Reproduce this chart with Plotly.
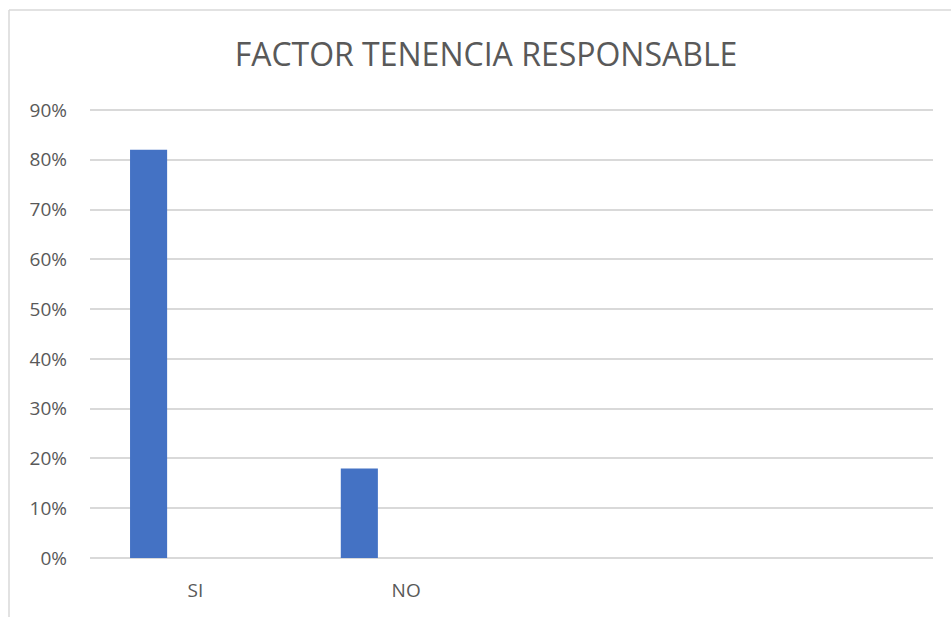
import plotly.graph_objects as go

categories = ["SI", "NO"]
values = [0.82, 0.18]
n_slots = 4
y_ticks = [0, 0.1, 0.2, 0.3, 0.4, 0.5, 0.6, 0.7, 0.8, 0.9]
y_labels = ["0%", "10%", "20%", "30%", "40%", "50%", "60%", "70%", "80%", "90%"]
title = "FACTOR TENENCIA RESPONSABLE"

W, H = 951, 617
y_top = 0.91
L, R, B = 90, 18, 59
px_per_unit = (558 - 110) / 0.9
T = round(110 - (y_top - 0.9) * px_per_unit)
pw = W - L - R
ph = H - T - B

fig = go.Figure(go.Bar(
    x=list(range(len(categories))),
    y=values,
    width=0.176,
    offset=-0.31,
    marker=dict(color="#4472C4", line=dict(width=0)),
    hoverinfo="skip",
))

grey = "#595959"
fig.update_layout(
    width=W, height=H,
    margin=dict(l=L, r=R, t=T, b=B, pad=0),
    paper_bgcolor="white", plot_bgcolor="white",
    showlegend=False,
    font=dict(family="Open Sans, Lato, sans-serif", color=grey, size=19),
    title=dict(text=title, xref="container", x=486 / W, xanchor="center",
               y=1 - 55 / H, yanchor="middle",
               font=dict(size=32, color=grey, family="Open Sans, sans-serif")),
    xaxis=dict(range=[-0.5, n_slots - 0.5], tickvals=list(range(len(categories))),
               ticktext=categories, showgrid=False, zeroline=False, showline=False,
               ticks="", ticklabelstandoff=19, tickfont=dict(size=19)),
    yaxis=dict(range=[0, y_top], tickvals=y_ticks, ticktext=y_labels, showgrid=True,
               gridcolor="#d9d9d9", gridwidth=1.5, zeroline=True, zerolinecolor="#d9d9d9",
               zerolinewidth=1.5, showline=False, ticks="", ticklabelstandoff=22,
               tickfont=dict(size=19)),
    shapes=[
        dict(type="line", xref="paper", yref="paper", x0=(9 - L) / pw, x1=(W + 20 - L) / pw,
             y0=(H - B - 10) / ph, y1=(H - B - 10) / ph, line=dict(color="#d9d9d9", width=1.5)),
        dict(type="line", xref="paper", yref="paper", x0=(9 - L) / pw, x1=(9 - L) / pw,
             y0=(H - B - 10) / ph, y1=(-B - 20) / ph, line=dict(color="#d9d9d9", width=1.5)),
    ],
)

fig.write_html("out.html", config={"displayModeBar": False},
               post_script="document.body.style.margin='0';document.body.style.overflow='hidden';")
